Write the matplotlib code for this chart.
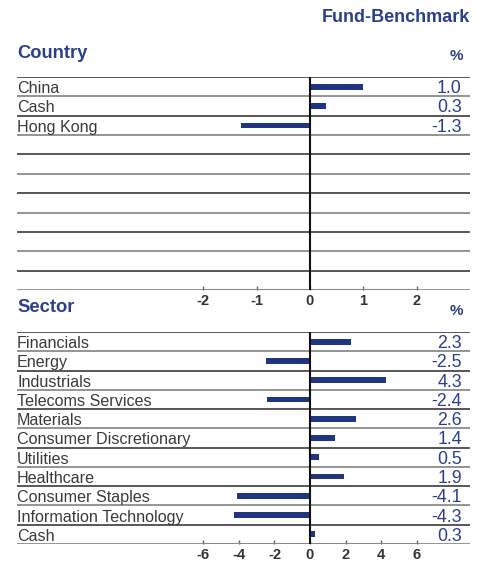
import matplotlib.pyplot as plt
import matplotlib.transforms as mtransforms

# Data
country_names = ["China", "Cash", "Hong Kong"]
country_values = [1.0, 0.3, -1.3]
country_ticks = [-2, -1, 0, 1, 2]

sector_names = ["Financials", "Energy", "Industrials", "Telecoms Services", "Materials",
                "Consumer Discretionary", "Utilities", "Healthcare", "Consumer Staples",
                "Information Technology", "Cash"]
sector_values = [2.3, -2.5, 4.3, -2.4, 2.6, 1.4, 0.5, 1.9, -4.1, -4.3, 0.3]
sector_ticks = [-6, -4, -2, 0, 2, 4, 6]

n_rows = 11
bar_color = "#1f3580"
blue_text = "#2b3f8c"
label_color = "#3a3a3a"

W, H = 486, 562
fig = plt.figure(figsize=(W / 100, H / 100), dpi=100)
plt.rcParams['font.family'] = ['Liberation Sans', 'DejaVu Sans']


def panel(top_px, bottom_px, names, values, ticks, xlim, title):
    ax = fig.add_axes([17 / W, 1 - bottom_px / H, 453 / W, (bottom_px - top_px) / H])
    ax.set_xlim(*xlim)
    ax.set_ylim(n_rows - 0.5, -0.5)
    for s in ax.spines.values():
        s.set_visible(False)
    ax.set_yticks([])

    # row separators
    for i in range(n_rows + 1):
        c = "#2a2a2a" if i % 2 == 0 else "#777777"
        ax.axhline(i - 0.5, color=c, lw=1.1, zorder=1)
    ax.axvline(0, color="#111111", lw=1.5, zorder=3)

    ax.barh(range(len(values)), values, height=0.3, color=bar_color, zorder=2)

    trans = mtransforms.blended_transform_factory(ax.transAxes, ax.transData)
    for i, (n, v) in enumerate(zip(names, values)):
        ax.text(0.0, i + 0.1, n, transform=trans, ha="left", va="center",
                fontsize=11.6, color=label_color)
        ax.text(0.982, i + 0.1, f"{v:.1f}", transform=trans, ha="right", va="center",
                fontsize=12.8, color=blue_text)

    # axis line under the scale
    ax.plot([ticks[0], ticks[-1]], [n_rows - 0.5, n_rows - 0.5], color="#888888",
            lw=2.2, zorder=2, solid_capstyle="butt")
    ax.set_xticks(ticks)
    ax.set_xticklabels([str(t) for t in ticks])
    ax.tick_params(axis="x", direction="in", length=3, width=1, color="#666666",
                   labelsize=10.5, labelcolor="#333333", pad=3)
    for lab in ax.get_xticklabels():
        lab.set_fontweight("bold")

    fig.text(17 / W, 1 - (top_px - 24) / H, title, ha="left", va="center",
             fontsize=13.2, fontweight="bold", color=blue_text)
    fig.text(463 / W, 1 - (top_px - 21) / H, "%", ha="right", va="center",
             fontsize=11, fontweight="bold", color=blue_text)
    return ax


fig.text(470 / W, 1 - 17 / H, "Fund-Benchmark", ha="right", va="center",
         fontsize=13, fontweight="bold", color=blue_text)

panel(77, 290, country_names, country_values, country_ticks,
      ((17 - 310) / 53.33, (470 - 310) / 53.33), "Country")
panel(332, 544, sector_names, sector_values, sector_ticks,
      ((17 - 310) / 17.78, (470 - 310) / 17.78), "Sector")

fig.savefig("out.png", dpi=100)
